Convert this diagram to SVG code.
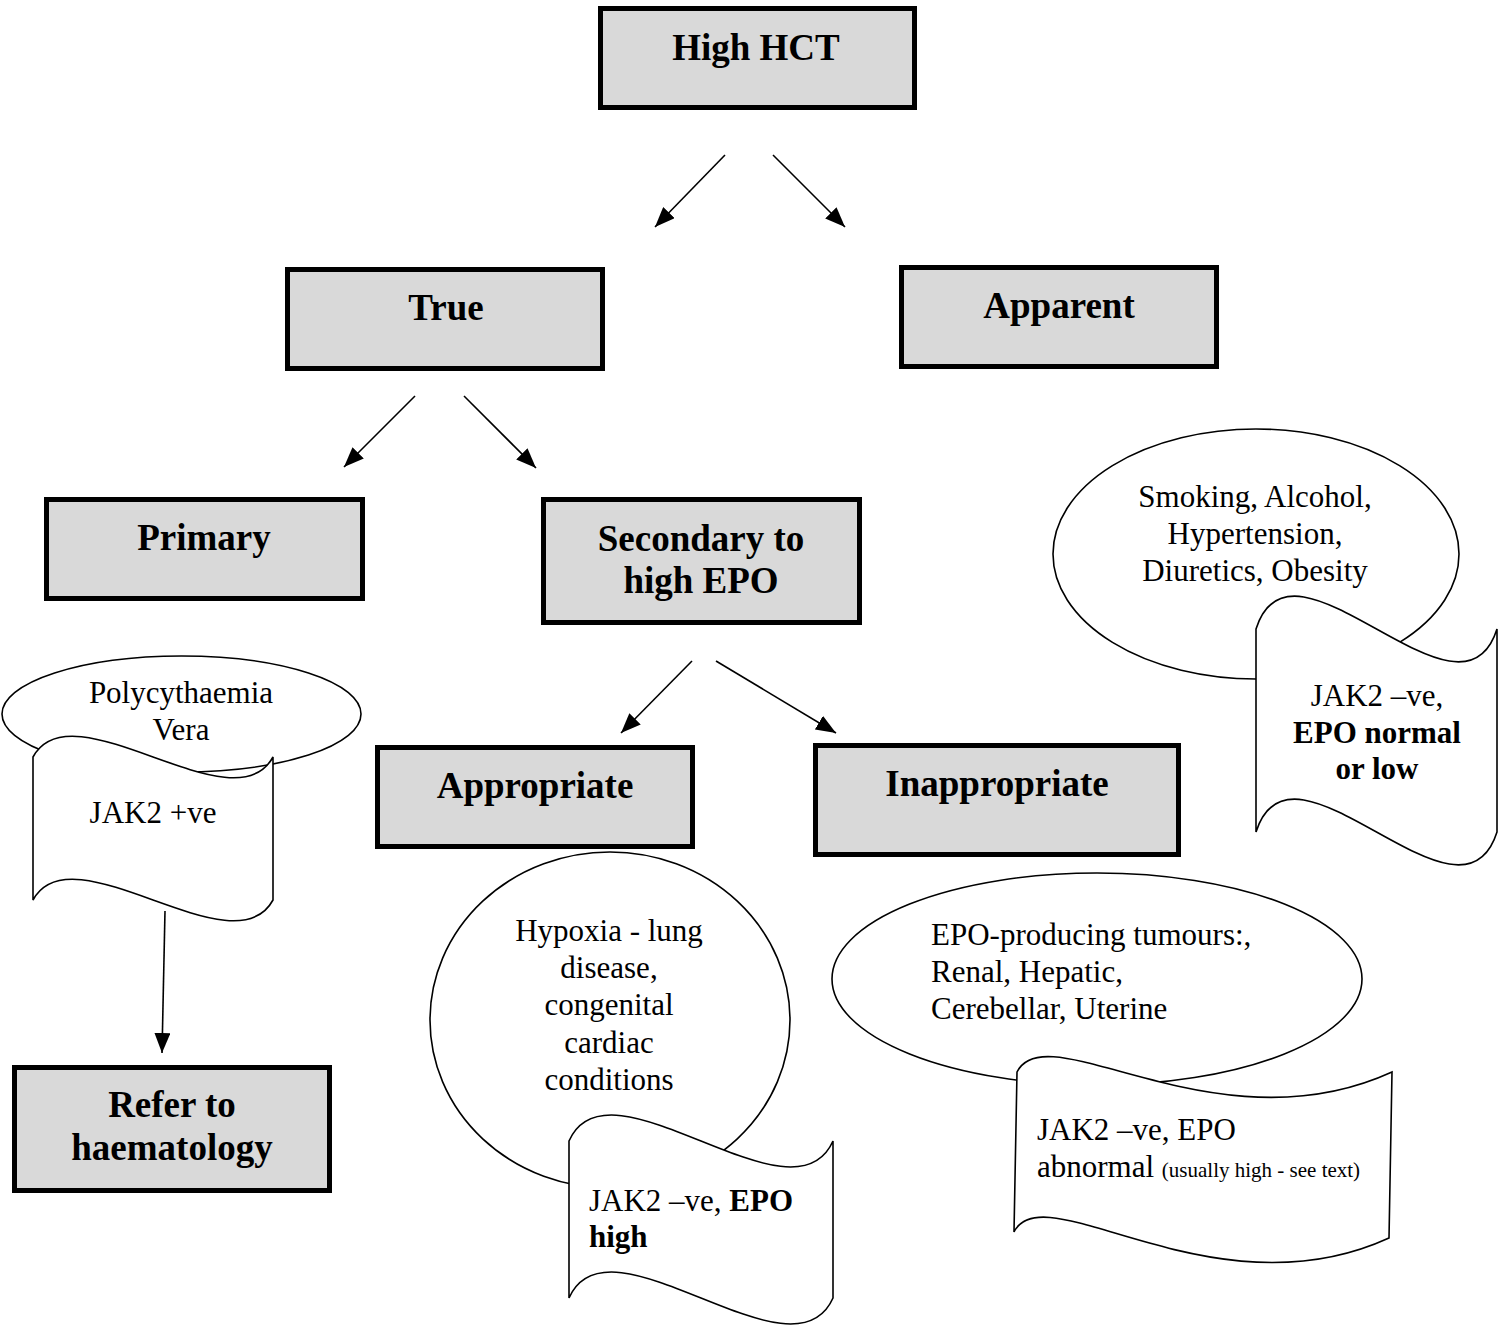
<svg xmlns="http://www.w3.org/2000/svg" width="1507" height="1328" viewBox="0 0 1507 1328">
<style>
.box{fill:#d9d9d9;stroke:#000;stroke-width:5}
.bt{font-family:"Liberation Serif","Times New Roman",serif;font-weight:bold;font-size:37px;text-anchor:middle;fill:#000}
.sh{fill:#fff;stroke:#000;stroke-width:1.6}
.t{font-family:"Liberation Serif","Times New Roman",serif;font-size:31px;fill:#000}
.c{text-anchor:middle}
.b{font-weight:bold}
.conn line{stroke:#000;stroke-width:1.6;marker-end:url(#ah)}
</style>
<defs>
<marker id="ah" markerUnits="userSpaceOnUse" markerWidth="20" markerHeight="16" refX="20" refY="8" orient="auto">
<path d="M0,0 L20,8 L0,16 Z" fill="#000"/>
</marker>
</defs>
<rect width="1507" height="1328" fill="#fff"/>

<g id="connectors" class="conn">
<line x1="725" y1="155" x2="655" y2="227"/>
<line x1="773" y1="155" x2="845" y2="227"/>
<line x1="415" y1="396" x2="344" y2="467"/>
<line x1="464" y1="396" x2="536" y2="468"/>
<line x1="692" y1="661" x2="621" y2="733"/>
<line x1="716" y1="661" x2="836" y2="733"/>
<line x1="165" y1="911" x2="162" y2="1053"/>
</g>

<g id="high-hct">
<rect class="box" x="600.5" y="8.5" width="314" height="99"/>
<text class="bt" x="756" y="60">High HCT</text>
</g>
<g id="true">
<rect class="box" x="287.5" y="269.5" width="315" height="99"/>
<text class="bt" x="446" y="320">True</text>
</g>
<g id="apparent">
<rect class="box" x="901.5" y="267.5" width="315" height="99"/>
<text class="bt" x="1059" y="318">Apparent</text>
</g>
<g id="primary">
<rect class="box" x="46.5" y="499.5" width="316" height="99"/>
<text class="bt" x="204" y="550">Primary</text>
</g>
<g id="secondary">
<rect class="box" x="543.5" y="499.5" width="316" height="123"/>
<text class="bt" x="701" y="551">Secondary to</text>
<text class="bt" x="701" y="593">high EPO</text>
</g>
<g id="appropriate">
<rect class="box" x="377.5" y="747.5" width="315" height="99"/>
<text class="bt" x="535" y="798">Appropriate</text>
</g>
<g id="inappropriate">
<rect class="box" x="815.5" y="745.5" width="363" height="109"/>
<text class="bt" x="997" y="796">Inappropriate</text>
</g>
<g id="refer">
<rect class="box" x="14.5" y="1067.5" width="315" height="123"/>
<text class="bt" x="172" y="1117">Refer to</text>
<text class="bt" x="172" y="1160">haematology</text>
</g>

<g id="pv-ellipse">
<ellipse class="sh" cx="181.5" cy="714" rx="179.5" ry="58"/>
<text class="t c" x="181" y="703">Polycythaemia</text>
<text class="t c" x="181" y="740">Vera</text>
</g>
<g id="pv-doc">
<path class="sh" d="M33,757 C72,685 234,829 273,757 L273,900 C234,972 72,828 33,900 Z"/>
<text class="t c" x="153" y="823">JAK2 +ve</text>
</g>

<g id="apparent-ellipse">
<ellipse class="sh" cx="1256" cy="554" rx="203" ry="125"/>
<text class="t c" x="1255" y="507">Smoking, Alcohol,</text>
<text class="t c" x="1255" y="544">Hypertension,</text>
<text class="t c" x="1255" y="581">Diuretics, Obesity</text>
</g>
<g id="apparent-doc">
<path class="sh" d="M1256,629 C1292,515 1461,743 1497,629 L1497,832 C1461,946 1292,718 1256,832 Z"/>
<text class="t c" x="1377" y="706">JAK2 –ve,</text>
<text class="t c b" x="1377" y="743">EPO normal</text>
<text class="t c b" x="1377" y="779">or low</text>
</g>

<g id="hypoxia-circle">
<ellipse class="sh" cx="610" cy="1020" rx="180" ry="168"/>
<text class="t c" x="609" y="941">Hypoxia - lung</text>
<text class="t c" x="609" y="978">disease,</text>
<text class="t c" x="609" y="1015">congenital</text>
<text class="t c" x="609" y="1053">cardiac</text>
<text class="t c" x="609" y="1090">conditions</text>
</g>
<g id="hypoxia-doc">
<path class="sh" d="M569,1141 C609,1051 793,1231 833,1141 L833,1298 C793,1388 609,1208 569,1298 Z"/>
<text class="t" x="589" y="1211">JAK2 –ve, <tspan class="b">EPO</tspan></text>
<text class="t b" x="589" y="1247">high</text>
</g>

<g id="tumour-ellipse">
<ellipse class="sh" cx="1097" cy="979" rx="265" ry="106"/>
<text class="t" x="931" y="945">EPO-producing tumours:,</text>
<text class="t" x="931" y="982">Renal, Hepatic,</text>
<text class="t" x="931" y="1019">Cerebellar, Uterine</text>
</g>
<g id="tumour-doc">
<path class="sh" d="M1017,1072 C1047,1012 1217,1152 1392,1072 L1389,1238 C1214,1318 1044,1172 1014,1232 Z"/>
<text class="t" x="1037" y="1140">JAK2 –ve, EPO</text>
<text class="t" x="1037" y="1177">abnormal <tspan font-size="21">(usually high - see text)</tspan></text>
</g>
</svg>
